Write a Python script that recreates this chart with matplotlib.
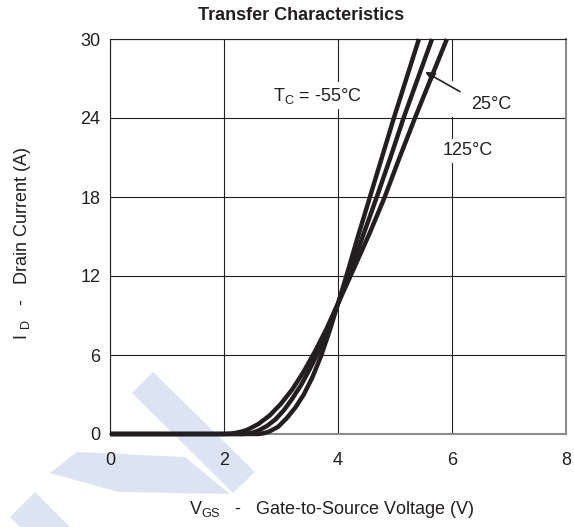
import numpy as np
import matplotlib.pyplot as plt
from matplotlib.patches import Polygon, Rectangle

plt.rcParams['font.family'] = ['Liberation Sans', 'DejaVu Sans']
plt.rcParams['mathtext.fontset'] = 'custom'
plt.rcParams['mathtext.rm'] = 'Liberation Sans'
plt.rcParams['mathtext.it'] = 'Liberation Sans'

# (VGS in V, ID in A)
vgs_m55 = [0, 2.5, 2.6, 2.7, 2.8, 2.95, 3.1, 3.25, 3.4, 3.55, 3.7, 3.85, 4.0, 4.14, 4.35, 4.56, 4.77, 4.98, 5.2, 5.42]
id_m55 = [0, 0, 0.0, 0.06, 0.2, 0.55, 1.2, 2.0, 3.0, 4.3, 5.9, 7.8, 9.9, 11.9, 15.0, 18.0, 21.0, 24.0, 27.0, 30.0]

vgs_25 = [0, 2.3, 2.4, 2.5, 2.6, 2.75, 2.9, 3.05, 3.2, 3.35, 3.5, 3.65, 3.8, 4.0, 4.2, 4.45, 4.68, 4.92, 5.15, 5.4, 5.65]
id_25 = [0, 0, 0.02, 0.1, 0.25, 0.6, 1.1, 1.8, 2.7, 3.7, 4.9, 6.2, 7.9, 9.9, 12.2, 15.2, 18.0, 21.0, 24.0, 27.0, 30.0]

vgs_125 = [0, 2.0, 2.1, 2.2, 2.3, 2.4, 2.6, 2.8, 3.0, 3.2, 3.4, 3.6, 3.8, 4.0, 4.25, 4.55, 4.82, 5.08, 5.35, 5.63, 5.91]
id_125 = [0, 0, 0.02, 0.08, 0.17, 0.3, 0.75, 1.4, 2.3, 3.4, 4.75, 6.3, 8.0, 9.9, 12.3, 15.2, 18.0, 21.0, 24.0, 27.0, 30.0]

xticks = [0, 2, 4, 6, 8]
yticks = [0, 6, 12, 18, 24, 30]

ink = '#231f20'
fs = 13
W, H = 574, 527
fig = plt.figure(figsize=(W/100, H/100), dpi=100)
ax = fig.add_axes([110/W, 1-434/H, 456/W, 395/H])
ax.set_facecolor('none')

def fp(pts):
    return [(x/W, 1-y/H) for x, y in pts]

# faint watermark in the lower left
wm = '#dce4f3'
for pts in ([(132, 393), (153, 372), (255, 472), (233, 493)],
            [(50, 473), (77, 452), (185, 457), (230, 494), (118, 492)],
            [(10, 517), (35, 492), (70, 527), (20, 527)]):
    fig.patches.append(Polygon(fp(pts), closed=True, transform=fig.transFigure,
                               facecolor=wm, edgecolor='none', zorder=-10))

for v, i in [(vgs_m55, id_m55), (vgs_25, id_25), (vgs_125, id_125)]:
    ax.plot(v, i, color=ink, lw=3.2, clip_on=False, solid_capstyle='butt',
            solid_joinstyle='round', zorder=3)

ax.set_xlim(0, 8)
ax.set_ylim(0, 30)
ax.set_xticks(xticks)
ax.set_yticks(yticks)
ax.set_axisbelow(True)
ax.grid(True, color=ink, lw=0.8)
ax.tick_params(length=0, labelsize=fs, labelcolor=ink)
ax.tick_params(axis='x', pad=13)
ax.tick_params(axis='y', pad=7)

for s in ['top', 'left']:
    ax.spines[s].set_color(ink)
    ax.spines[s].set_linewidth(0.8)
for s in ['bottom', 'right']:
    ax.spines[s].set_color('#8c8c8c')
    ax.spines[s].set_linewidth(1.5)

# white gap in the 6 V grid line behind the arrow label
ax.add_patch(Rectangle((5.88, 24.05), 0.35, 2.75, facecolor='white', edgecolor='none', zorder=0.8))

box = dict(facecolor='white', edgecolor='none', pad=2.5)
ax.text(3.63, 25.7, r'T$_\mathrm{C}$ = -55°C', ha='center', va='center', fontsize=fs, color=ink, bbox=box, zorder=2)
ax.text(6.68, 25.05, '25°C', ha='center', va='center', fontsize=fs, color=ink, zorder=2)
ax.text(6.28, 21.5, '125°C', ha='center', va='center', fontsize=fs, color=ink, bbox=box, zorder=2)
ax.annotate('', xy=(5.53, 27.5), xytext=(6.14, 26.0),
            arrowprops=dict(arrowstyle='-|>', color=ink, lw=1.2, mutation_scale=14, shrinkA=0, shrinkB=0))

ax.set_xlabel(r'V$_\mathrm{GS}$   -   Gate-to-Source Voltage (V)', fontsize=fs, color=ink, va='center')
ax.xaxis.set_label_coords((332-110)/456, (434-509)/395)
ax.set_ylabel(r'I $_\mathrm{D}$   -   Drain Current (A)', fontsize=fs, color=ink, va='center')
ax.yaxis.set_label_coords((23-110)/456, (434-243)/395)

fig.text(301/W, 1-16/H, 'Transfer Characteristics', ha='center', va='center',
         fontsize=fs, fontweight='bold', color=ink)

plt.savefig('out.png', dpi=100)
